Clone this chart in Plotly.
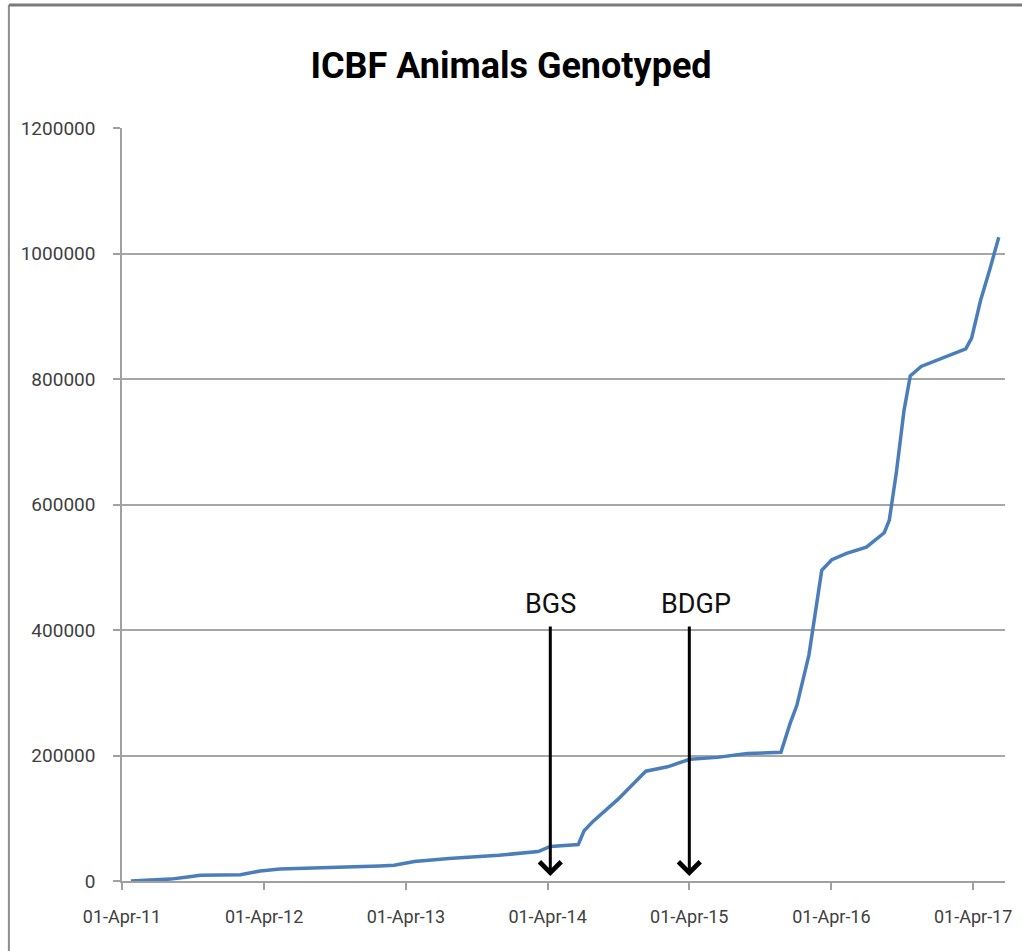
import plotly.graph_objects as go

# ---- data ----
dates = [
    "2011-04-24", "2011-06-14", "2011-08-04", "2011-09-12", "2011-10-20",
    "2012-01-31", "2012-03-22", "2012-05-12", "2012-09-17", "2013-01-23",
    "2013-03-02", "2013-04-23", "2013-07-21", "2013-11-26", "2014-03-08",
    "2014-04-08", "2014-06-19", "2014-07-04", "2014-07-27", "2014-09-29",
    "2014-12-10", "2015-02-04", "2015-04-02", "2015-06-12", "2015-08-28",
    "2015-11-23", "2015-12-16", "2016-01-03", "2016-02-03", "2016-02-23",
    "2016-03-07", "2016-04-02", "2016-05-10", "2016-06-30", "2016-08-15",
    "2016-08-28", "2016-09-15", "2016-10-05", "2016-10-21", "2016-11-18",
    "2017-01-21", "2017-03-13", "2017-03-28", "2017-04-20", "2017-05-14",
    "2017-06-06",
]
genotyped = [
    0, 1000, 3000, 6000, 9000,
    10000, 16000, 19000, 21000, 24000,
    25000, 31000, 36000, 41000, 47000,
    55000, 58000, 80000, 95000, 130000,
    175000, 182000, 194000, 197000, 203000,
    205000, 250000, 280000, 360000, 440000,
    495000, 512000, 522000, 532000, 555000,
    575000, 650000, 750000, 805000, 820000,
    836000, 848000, 865000, 925000, 975000,
    1026000,
]

tick_dates = ["2011-04-01", "2012-04-01", "2013-04-01", "2014-04-01",
              "2015-04-01", "2016-04-01", "2017-04-01"]
tick_labels = ["01-Apr-11", "01-Apr-12", "01-Apr-13", "01-Apr-14",
               "01-Apr-15", "01-Apr-16", "01-Apr-17"]
y_ticks = [0, 200000, 400000, 600000, 800000, 1000000, 1200000]

event_names = ["BGS", "BDGP"]
event_dates = ["2014-04-08", "2015-04-01"]
event_label_dates = ["2014-04-08", "2015-04-18"]

title_text = "ICBF Animals Genotyped"

FONT = "Roboto, Liberation Sans, Arial, sans-serif"

fig = go.Figure()
fig.add_trace(go.Scatter(
    x=dates, y=genotyped, mode="lines",
    line=dict(color="#4a7ebb", width=3.5),
    showlegend=False, hoverinfo="skip",
))

annotations = []
for name, d, ld in zip(event_names, event_dates, event_label_dates):
    annotations.append(dict(
        x=d, y=8000, ax=d, ay=408000, xref="x", yref="y", axref="x", ayref="y",
        text="", showarrow=True, arrowhead=4, arrowsize=1.4, arrowwidth=3,
        arrowcolor="#000000",
    ))
    annotations.append(dict(
        x=ld, y=442000, xref="x", yref="y", text=name, showarrow=False,
        font=dict(family=FONT, size=27, color="#111111"),
        xanchor="center", yanchor="middle",
    ))

fig.update_layout(
    width=1022, height=951,
    margin=dict(l=122, r=10, t=128, b=70),
    paper_bgcolor="white", plot_bgcolor="white",
    title=dict(text="<b>" + title_text + "</b>", x=0.5, xanchor="center",
               y=1 - 65 / 951, yanchor="middle",
               font=dict(family=FONT, size=36, color="#000000")),
    annotations=annotations,
    shapes=[
        dict(type="line", xref="paper", yref="paper",
             x0=(8 - 122) / 890, x1=(8 - 122) / 890,
             y0=(881 - 5) / 753, y1=(881 - 955) / 753,
             line=dict(color="#8c8c8c", width=2)),
        dict(type="line", xref="paper", yref="paper",
             x0=(8 - 122) / 890, x1=(1030 - 122) / 890,
             y0=(881 - 5) / 753, y1=(881 - 5) / 753,
             line=dict(color="#7a7a7a", width=3)),
    ],
)

fig.update_xaxes(
    type="date", range=["2011-04-01", "2017-06-22"],
    tickmode="array", tickvals=tick_dates, ticktext=tick_labels,
    showgrid=False, zeroline=False,
    showline=True, linecolor="#a0a0a0", linewidth=1.5,
    ticks="outside", ticklen=7, tickcolor="#a0a0a0", tickwidth=1.5,
    ticklabelstandoff=12,
    tickfont=dict(family=FONT, size=18, color="#404040"),
)
fig.update_yaxes(
    range=[0, 1200000], tickmode="array", tickvals=y_ticks,
    ticktext=[str(v) for v in y_ticks],
    showgrid=True, gridcolor="#a6a6a6", gridwidth=1.5,
    zeroline=False,
    showline=True, linecolor="#a0a0a0", linewidth=1.5,
    ticks="outside", ticklen=7, tickcolor="#a0a0a0", tickwidth=1.5,
    ticklabelstandoff=14,
    tickfont=dict(family=FONT, size=19, color="#404040"),
)

fig.write_html(
    "out.html",
    config={"displayModeBar": False},
    post_script="document.body.style.margin='0px';document.body.style.padding='0px';",
)
